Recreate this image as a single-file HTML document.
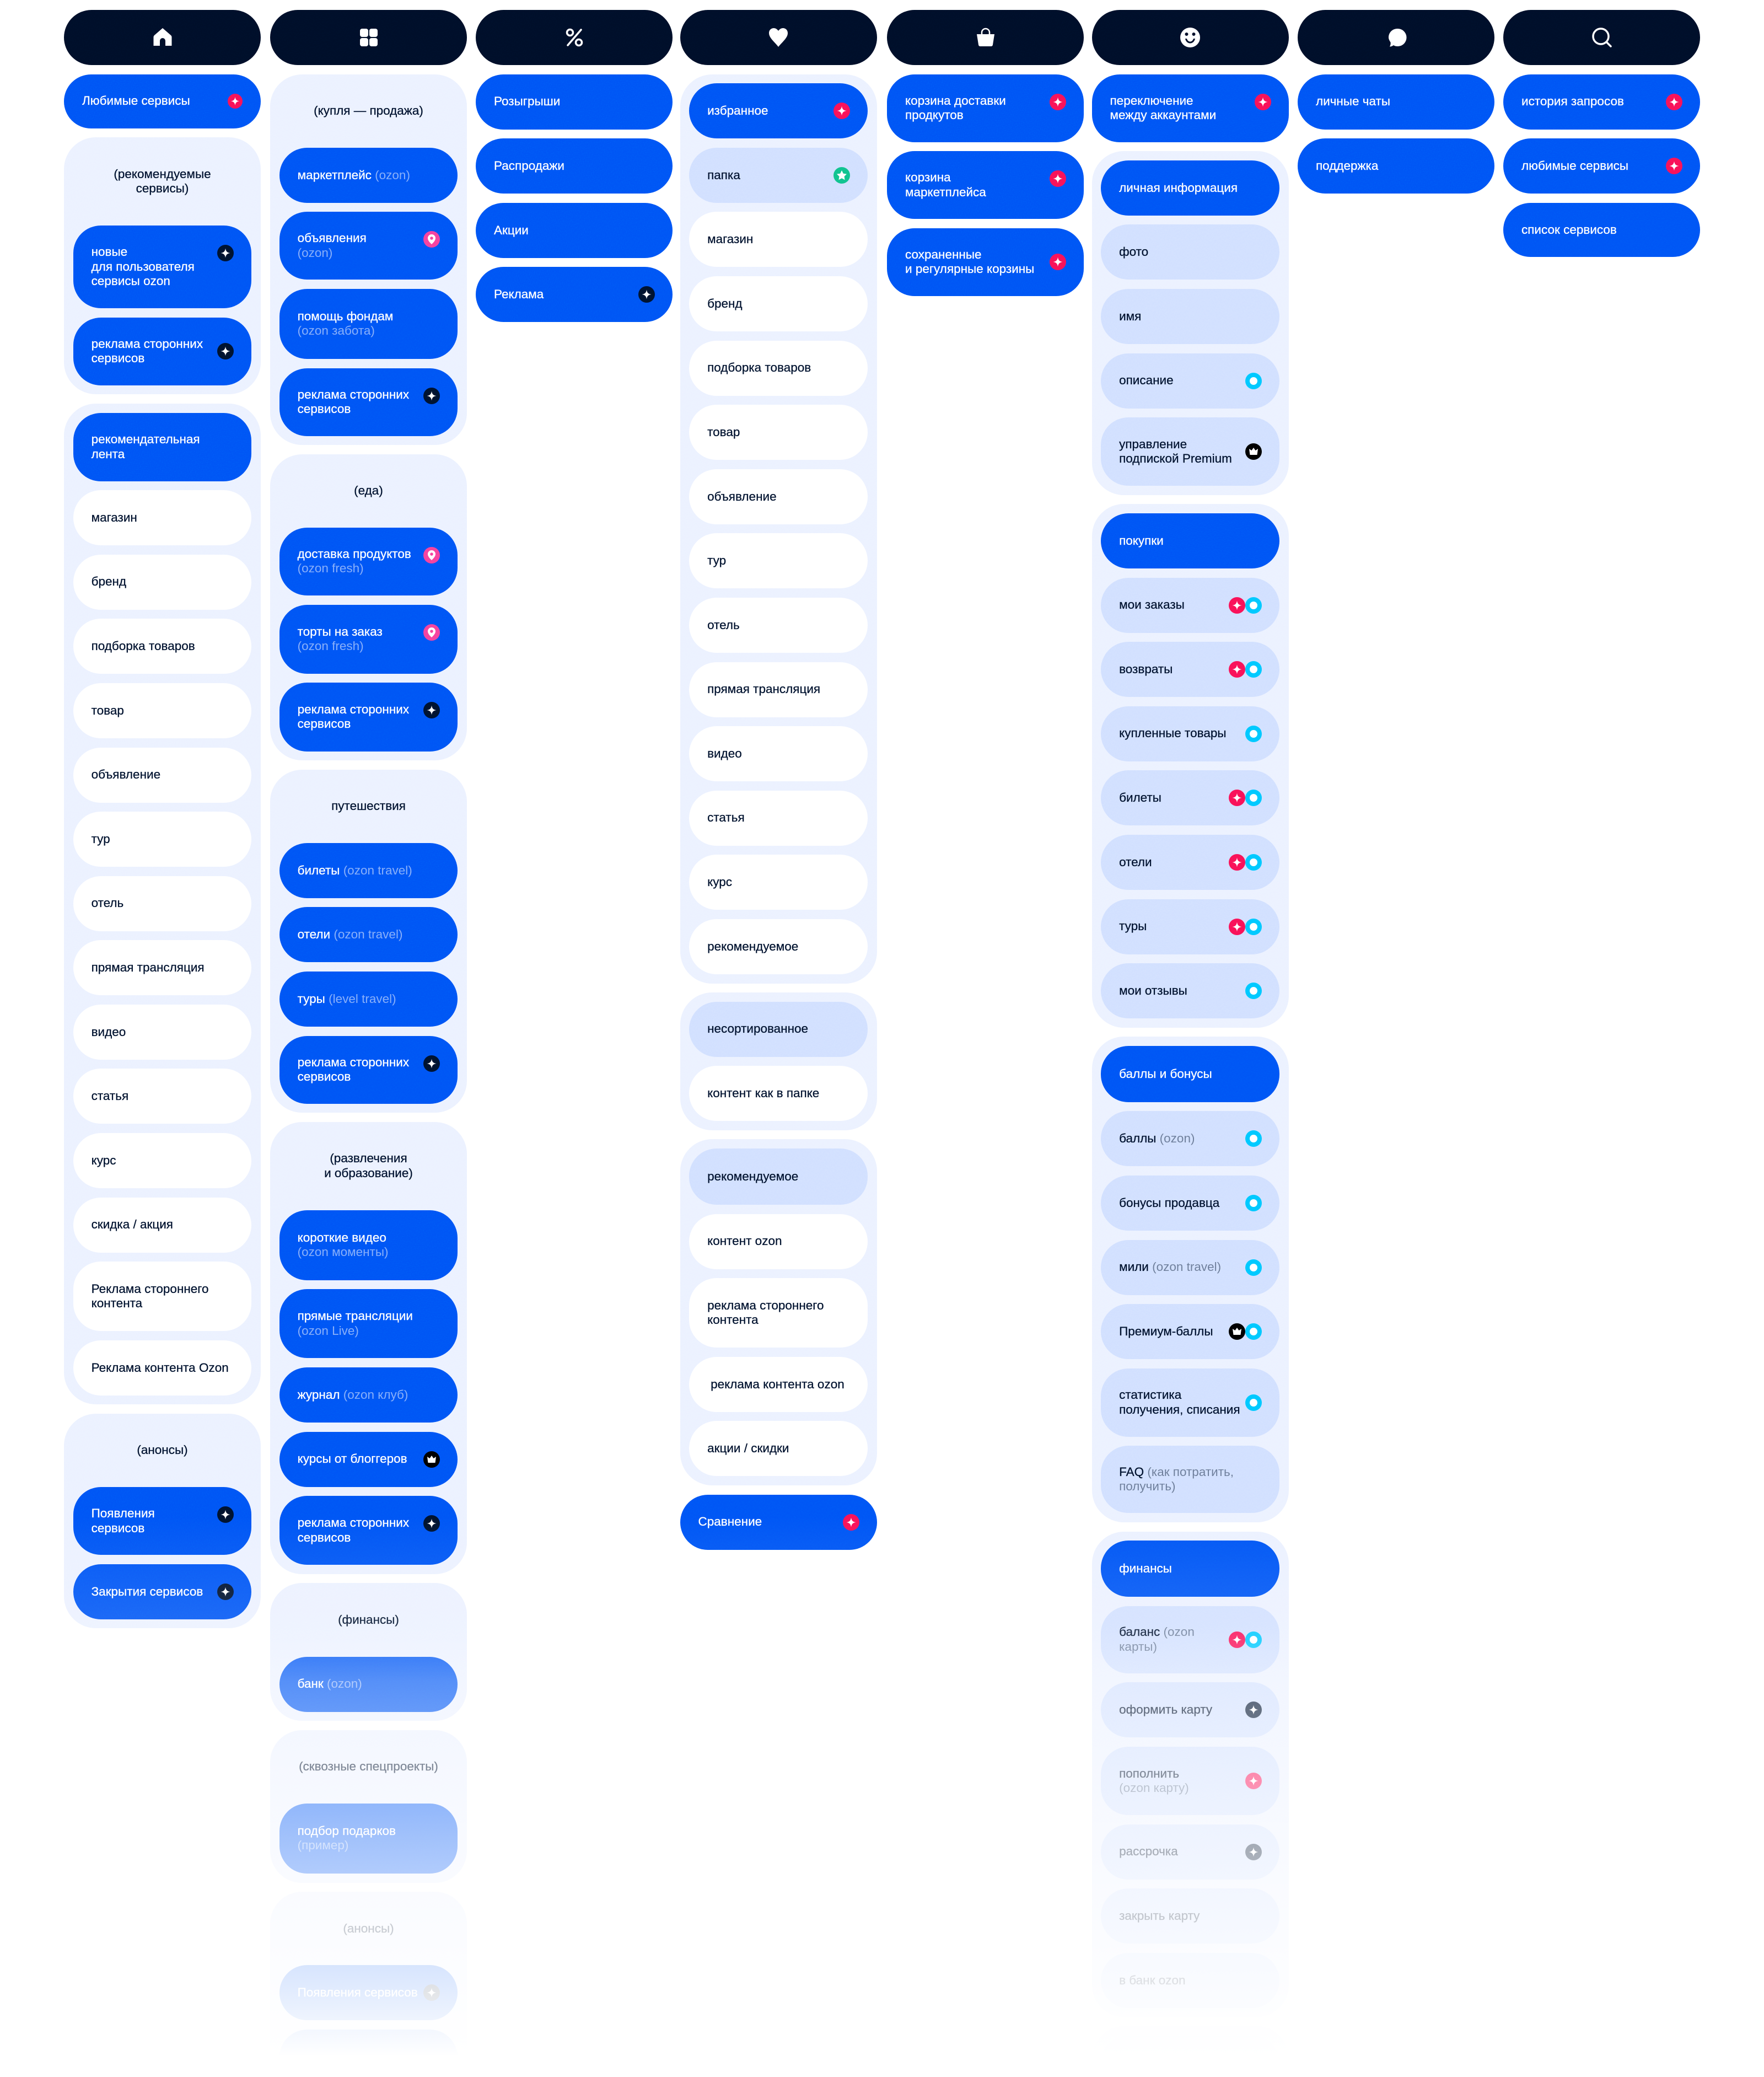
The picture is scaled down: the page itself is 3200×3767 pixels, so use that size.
<!DOCTYPE html>
<html lang="ru"><head><meta charset="utf-8"><title>Ozon map</title>
<style>
html,body{margin:0;padding:0;background:#fff}
#page{position:relative;width:3200px;height:3767px;overflow:hidden;background:#fff;font-family:"Liberation Sans","DejaVu Sans",sans-serif;font-size:22.5px;line-height:26.5px;color:#00112c;-webkit-text-stroke:.3px currentColor}
.c{position:absolute;top:18px;width:357px;display:flex;flex-direction:column;gap:16.6px}
.g{background:#ebf1ff;border-radius:58px;padding:16.6px;display:flex;flex-direction:column;gap:16.6px;flex:none}
.p{position:relative;height:100px;box-sizing:border-box;border-radius:50px;padding-left:33px;display:flex;align-items:center;flex:none}
.n{background:#000e28;justify-content:center;padding:0}
.b{background:#0052f5;color:#fff}
.l{background:#d0dfff}
.w{background:#fff}
.h{height:100px;display:flex;align-items:center;justify-content:center;text-align:center;flex:none}
.h2{height:126.8px}
.t2{height:123px}.t3{height:150px}.t25{height:125px}
.s{opacity:.5;-webkit-text-stroke:0}
.i{position:absolute;right:32px;top:calc(50% - 15px);width:30px;height:30px}
.t{top:35px}
.i2{right:62px}
.sm{width:27px;height:27px;right:33px;top:calc(50% - 14px)}
#grain{position:absolute;left:0;top:0;width:3200px;height:3767px;mix-blend-mode:overlay;opacity:.28;pointer-events:none}
#fade{position:absolute;left:0;top:2650px;width:3200px;height:1117px;background:linear-gradient(to bottom,rgba(255,255,255,0) 100px,rgba(255,255,255,.12) 300px,rgba(255,255,255,.34) 400px,rgba(255,255,255,.63) 680px,rgba(255,255,255,.89) 965px,#fff 1080px);pointer-events:none}
.ni{width:40px;height:40px;fill:#fff}
</style></head><body><div id="page">
<svg width="0" height="0" style="position:absolute">
<symbol id="r" viewBox="0 0 30 30"><circle cx="15" cy="15" r="15" fill="#f91155"/><path d="M15 6.500C15.800 12 18 14.200 23.500 15 18 15.800 15.800 18 15 23.500 14.200 18 12 15.800 6.500 15 12 14.200 14.200 12 15 6.500Z" fill="#fff"/></symbol>
<symbol id="k" viewBox="0 0 30 30"><circle cx="15" cy="15" r="15" fill="#00122e"/><path d="M15 6.500C15.800 12 18 14.200 23.500 15 18 15.800 15.800 18 15 23.500 14.200 18 12 15.800 6.500 15 12 14.200 14.200 12 15 6.500Z" fill="#fff"/></symbol>
<symbol id="pin" viewBox="0 0 30 30"><circle cx="15" cy="15" r="15" fill="#f5409a"/><path d="M15 6a7 7 0 0 1 7 7c0 4.500-4.500 8.500-7 11-2.500-2.500-7-6.500-7-11a7 7 0 0 1 7-7Z" fill="#fff"/><circle cx="15" cy="13" r="2.800" fill="#f5409a"/></symbol>
<symbol id="st" viewBox="0 0 30 30"><circle cx="15" cy="15" r="15" fill="#10c08a"/><path d="M15 6l2.800 5.800 6.200.8-4.500 4.400 1.100 6.300L15 20.300 9.400 23.300l1.100-6.300L6 12.600l6.200-.8Z" fill="#fff"/></symbol>
<symbol id="o" viewBox="0 0 30 30"><circle cx="15" cy="15" r="15" fill="#00c6ff"/><circle cx="15" cy="15" r="7" fill="#fff"/></symbol>
<symbol id="cr" viewBox="0 0 30 30"><circle cx="15" cy="15" r="15" fill="#000"/><path d="M7 10l4.500 3L15 8l3.500 5L23 10l-1.500 11h-13Z" fill="#fff"/></symbol>
</svg>

<div class="c" style="left:116px">
<div class="p n"><svg class="ni" viewBox="0 0 40 40"><path d="M20 3 35 16c1 1 1.500 2 1.500 3.500V35H25V26a5 5 0 0 0-10 0v9H3.500V19.500c0-1.500.5-2.500 1.500-3.500Z"/></svg></div>
<div class="p b" style="height:98px">Любимые сервисы<svg class="i sm"><use href="#r"/></svg></div>
<div class="g">
<div class="h h2">(рекомендуемые<br>сервисы)</div>
<div class="p b t3"><div>новые<br>для пользователя<br>сервисы ozon</div><svg class="i t"><use href="#k"/></svg></div>
<div class="p b t2"><div>реклама сторонних<br>сервисов</div><svg class="i"><use href="#k"/></svg></div>
</div>
<div class="g">
<div class="p b" style="height:124px"><div>рекомендательная<br>лента</div></div>
<div class="p w">магазин</div><div class="p w">бренд</div><div class="p w">подборка товаров</div><div class="p w">товар</div><div class="p w">объявление</div><div class="p w">тур</div><div class="p w">отель</div><div class="p w">прямая трансляция</div><div class="p w">видео</div><div class="p w">статья</div><div class="p w">курс</div><div class="p w">скидка / акция</div>
<div class="p w" style="height:126px"><div>Реклама стороннего<br>контента</div></div>
<div class="p w">Реклама контента Ozon</div>
</div>
<div class="g">
<div class="h">(анонсы)</div>
<div class="p b t2"><div>Появления<br>сервисов</div><svg class="i t"><use href="#k"/></svg></div>
<div class="p b">Закрытия сервисов<svg class="i"><use href="#k"/></svg></div>
</div>
</div>

<div class="c" style="left:490px">
<div class="p n"><svg class="ni" viewBox="0 0 40 40"><rect x="4" y="4" width="15" height="15" rx="4"/><rect x="21" y="4" width="15" height="15" rx="4"/><rect x="4" y="21" width="15" height="15" rx="4"/><rect x="21" y="21" width="15" height="15" rx="4"/></svg></div>
<div class="g">
<div class="h">(купля — продажа)</div>
<div class="p b"><div>маркетплейс <span class="s">(ozon)</span></div></div>
<div class="p b t2"><div>объявления<br><span class="s">(ozon)</span></div><svg class="i t"><use href="#pin"/></svg></div>
<div class="p b" style="height:127px"><div>помощь фондам<br><span class="s">(ozon забота)</span></div></div>
<div class="p b t2"><div>реклама сторонних<br>сервисов</div><svg class="i t"><use href="#k"/></svg></div>
</div>
<div class="g">
<div class="h">(еда)</div>
<div class="p b t2"><div>доставка продуктов<br><span class="s">(ozon fresh)</span></div><svg class="i t"><use href="#pin"/></svg></div>
<div class="p b" style="height:125px"><div>торты на заказ<br><span class="s">(ozon fresh)</span></div><svg class="i t"><use href="#pin"/></svg></div>
<div class="p b" style="height:124.400px"><div>реклама сторонних<br>сервисов</div><svg class="i t"><use href="#k"/></svg></div>
</div>
<div class="g">
<div class="h">путешествия</div>
<div class="p b"><div>билеты <span class="s">(ozon travel)</span></div></div>
<div class="p b"><div>отели <span class="s">(ozon travel)</span></div></div>
<div class="p b"><div>туры <span class="s">(level travel)</span></div></div>
<div class="p b t2"><div>реклама сторонних<br>сервисов</div><svg class="i t"><use href="#k"/></svg></div>
</div>
<div class="g">
<div class="h h2">(развлечения<br>и образование)</div>
<div class="p b" style="height:127px"><div>короткие видео<br><span class="s">(ozon моменты)</span></div></div>
<div class="p b t25"><div>прямые трансляции<br><span class="s">(ozon Live)</span></div></div>
<div class="p b"><div>журнал <span class="s">(ozon клуб)</span></div></div>
<div class="p b">курсы от блоггеров<svg class="i"><use href="#cr"/></svg></div>
<div class="p b t25"><div>реклама сторонних<br>сервисов</div><svg class="i t"><use href="#k"/></svg></div>
</div>
<div class="g">
<div class="h">(финансы)</div>
<div class="p b"><div>банк <span class="s">(ozon)</span></div></div>
</div>
<div class="g">
<div class="h">(сквозные спецпроекты)</div>
<div class="p b" style="height:127px"><div>подбор подарков<br><span class="s">(пример)</span></div></div>
</div>
<div class="g">
<div class="h">(анонсы)</div>
<div class="p b">Появления сервисов<svg class="i"><use href="#k"/></svg></div>
<div class="p b"></div>
</div>
</div>

<div class="c" style="left:863px">
<div class="p n"><svg class="ni" viewBox="0 0 40 40"><g fill="none" stroke="#fff" stroke-width="3.500" stroke-linecap="round"><circle cx="12" cy="11" r="5.500"/><circle cx="28" cy="29" r="5.500"/><path d="M32 6 8 34"/></g></svg></div>
<div class="p b">Розыгрыши</div><div class="p b">Распродажи</div><div class="p b">Акции</div>
<div class="p b">Реклама<svg class="i"><use href="#k"/></svg></div>
</div>

<div class="c" style="left:1233.500px">
<div class="p n"><svg class="ni" viewBox="0 0 40 40"><path d="M20 37C14 29 3 21 3 12 3 6 7.500 3 11.500 3 15 3 18 5 20 8 22 5 25 3 28.500 3 32.500 3 37 6 37 12 37 21 26 29 20 37Z"/></svg></div>
<div class="g">
<div class="p b">избранное<svg class="i"><use href="#r"/></svg></div>
<div class="p l">папка<svg class="i"><use href="#st"/></svg></div>
<div class="p w">магазин</div><div class="p w">бренд</div><div class="p w">подборка товаров</div><div class="p w">товар</div><div class="p w">объявление</div><div class="p w">тур</div><div class="p w">отель</div><div class="p w">прямая трансляция</div><div class="p w">видео</div><div class="p w">статья</div><div class="p w">курс</div><div class="p w">рекомендуемое</div>
</div>
<div class="g">
<div class="p l">несортированное</div>
<div class="p w">контент как в папке</div>
</div>
<div class="g">
<div class="p l" style="height:102px">рекомендуемое</div>
<div class="p w">контент ozon</div>
<div class="p w" style="height:126px"><div>реклама стороннего<br>контента</div></div>
<div class="p w" style="padding-left:39px">реклама контента ozon</div>
<div class="p w">акции / скидки</div>
</div>
<div class="p b">Сравнение<svg class="i"><use href="#r"/></svg></div>
</div>

<div class="c" style="left:1609px">
<div class="p n"><svg class="ni" viewBox="0 0 40 40"><path d="M13 15V11a7 7 0 0 1 14 0v4" fill="none" stroke="#fff" stroke-width="2.500"/><path d="M4 14H36L33 33a3 3 0 0 1-3 3H10a3 3 0 0 1-3-3Z"/></svg></div>
<div class="p b t2"><div>корзина доставки<br>продкутов</div><svg class="i t"><use href="#r"/></svg></div>
<div class="p b t2"><div>корзина<br>маркетплейса</div><svg class="i t"><use href="#r"/></svg></div>
<div class="p b t2"><div>сохраненные<br>и регулярные корзины</div><svg class="i"><use href="#r"/></svg></div>
</div>

<div class="c" style="left:1980.500px">
<div class="p n"><svg class="ni" viewBox="0 0 40 40"><path fill-rule="evenodd" d="M20 2a18 18 0 1 1 0 36 18 18 0 0 1 0-36ZM13.500 11a3 3 0 1 0 0 6 3 3 0 0 0 0-6Zm13 0a3 3 0 1 0 0 6 3 3 0 0 0 0-6ZM11 22c1 5.500 5 8.500 9 8.500s8-3 9-8.500h-3c-1 3.500-3.500 5.500-6 5.500s-5-2-6-5.500Z"/></svg></div>
<div class="p b t2"><div>переключение<br>между аккаунтами</div><svg class="i t"><use href="#r"/></svg></div>
<div class="g">
<div class="p b">личная информация</div>
<div class="p l">фото</div><div class="p l">имя</div>
<div class="p l">описание<svg class="i"><use href="#o"/></svg></div>
<div class="p l" style="height:124px"><div>управление<br>подпиской Premium</div><svg class="i"><use href="#cr"/></svg></div>
</div>
<div class="g">
<div class="p b">покупки</div>
<div class="p l">мои заказы<svg class="i i2"><use href="#r"/></svg><svg class="i"><use href="#o"/></svg></div>
<div class="p l">возвраты<svg class="i i2"><use href="#r"/></svg><svg class="i"><use href="#o"/></svg></div>
<div class="p l">купленные товары<svg class="i"><use href="#o"/></svg></div>
<div class="p l">билеты<svg class="i i2"><use href="#r"/></svg><svg class="i"><use href="#o"/></svg></div>
<div class="p l">отели<svg class="i i2"><use href="#r"/></svg><svg class="i"><use href="#o"/></svg></div>
<div class="p l">туры<svg class="i i2"><use href="#r"/></svg><svg class="i"><use href="#o"/></svg></div>
<div class="p l">мои отзывы<svg class="i"><use href="#o"/></svg></div>
</div>
<div class="g">
<div class="p b" style="height:102px">баллы и бонусы</div>
<div class="p l"><div>баллы <span class="s">(ozon)</span></div><svg class="i"><use href="#o"/></svg></div>
<div class="p l">бонусы продавца<svg class="i"><use href="#o"/></svg></div>
<div class="p l"><div>мили <span class="s">(ozon travel)</span></div><svg class="i"><use href="#o"/></svg></div>
<div class="p l">Премиум-баллы<svg class="i i2"><use href="#cr"/></svg><svg class="i"><use href="#o"/></svg></div>
<div class="p l" style="height:124px"><div>статистика<br>получения, списания</div><svg class="i"><use href="#o"/></svg></div>
<div class="p l" style="height:122px"><div>FAQ <span class="s">(как потратить,<br>получить)</span></div></div>
</div>
<div class="g">
<div class="p b" style="height:102px">финансы</div>
<div class="p l" style="height:122px"><div>баланс <span class="s">(ozon<br>карты)</span></div><svg class="i i2"><use href="#r"/></svg><svg class="i"><use href="#o"/></svg></div>
<div class="p l">оформить карту<svg class="i"><use href="#k"/></svg></div>
<div class="p l" style="height:124px"><div>пополнить<br><span class="s">(ozon карту)</span></div><svg class="i"><use href="#r"/></svg></div>
<div class="p l">рассрочка<svg class="i"><use href="#k"/></svg></div>
<div class="p l">закрыть карту</div>
<div class="p l">в банк ozon</div>
</div>
<div class="g"><div class="p l"></div></div>
</div>

<div class="c" style="left:2354px">
<div class="p n"><svg class="ni" viewBox="0 0 40 40"><path d="M21 4a16 16 0 0 1 1 32c-3 0-6-.5-8-2-2 1.500-4.500 2.500-7 2.500 1.500-2.500 2-5 1.500-8C6 25 5 22 5 20 5 11 12 4 21 4Z" transform="translate(1 0)"/></svg></div>
<div class="p b">личные чаты</div><div class="p b">поддержка</div>
</div>

<div class="c" style="left:2727px">
<div class="p n"><svg class="ni" viewBox="0 0 40 40"><g fill="none" stroke="#fff" stroke-width="3.500" stroke-linecap="round"><circle cx="18" cy="18" r="14"/><path d="M28 28l8 8"/></g></svg></div>
<div class="p b">история запросов<svg class="i"><use href="#r"/></svg></div>
<div class="p b">любимые сервисы<svg class="i"><use href="#r"/></svg></div>
<div class="p b" style="height:98px">список сервисов</div>
</div>

<svg id="grain"><filter id="nf" x="0" y="0" width="100%" height="100%"><feTurbulence type="fractalNoise" baseFrequency=".55" numOctaves="2" seed="4"/><feColorMatrix type="saturate" values="0"/></filter><rect width="3200" height="3767" filter="url(#nf)"/></svg>
<div id="fade"></div>
</div></body></html>
